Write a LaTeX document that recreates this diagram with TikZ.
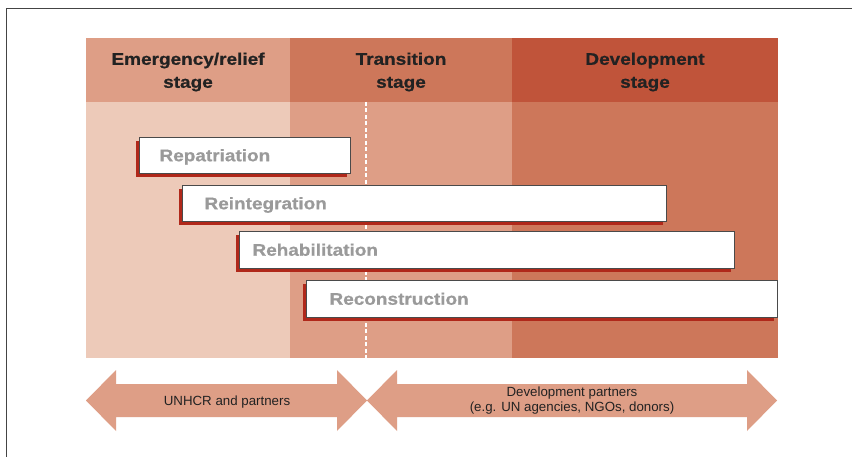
\documentclass[tikz,border=0pt]{standalone}
\usepackage{fontspec}
\setmainfont{Liberation Sans}
\newfontfamily\widefont[FakeStretch=1.13, BoldFeatures={FakeBold=0.7}]{Liberation Sans}
\usetikzlibrary{shadows}
\definecolor{bodyA}{HTML}{EDCAB9}
\definecolor{toneB}{HTML}{DE9E86}
\definecolor{toneC}{HTML}{CD775A}
\definecolor{toneD}{HTML}{C0543A}
\definecolor{shadowred}{HTML}{B0281A}
\definecolor{bargray}{HTML}{9A9A9A}
\definecolor{hdtext}{HTML}{222222}
\definecolor{framegray}{HTML}{444444}
\definecolor{boxline}{HTML}{4A4A4A}
\begin{document}
\begin{tikzpicture}[x=1pt,y=-1pt,
  hdr/.style={inner sep=0pt, align=center, text=hdtext,
    font=\fontsize{16.8}{23}\selectfont\widefont\bfseries},
  bar/.style={draw=boxline, line width=1pt, fill=white, anchor=north west,
    align=left, inner ysep=0pt, text=bargray, text height=12.5pt, text depth=1pt,
    font=\fontsize{16.8}{20}\selectfont\widefont\bfseries,
    general shadow={fill=shadowred, shadow xshift=-4pt, shadow yshift=-3.5pt}},
  arrowfill/.style={fill=toneB},
  arrowtext/.style={inner sep=0pt, align=center, text=hdtext,
    font=\fontsize{13.3}{15}\selectfont}
]
\useasboundingbox (0,0) rectangle (852,457);
\fill[white] (0,0) rectangle (852,457);
% frame
\draw[framegray, line width=1.3pt] (852,8.5) -- (6.5,8.5) -- (6.5,457);

% column bodies
\fill[bodyA] (86,102) rectangle (290,358);
\fill[toneB] (290,102) rectangle (512,358);
\fill[toneC] (512,102) rectangle (778,358);

% headers
\fill[toneB] (86,38) rectangle (290,102);
\fill[toneC] (290,38) rectangle (512,102);
\fill[toneD] (512,38) rectangle (778,102);
\node[hdr] (emerg) at (188,72) {Emergency/relief\\stage};
\node[hdr] (trans) at (401,72) {Transition\\stage};
\node[hdr] (devel) at (645,72) {Development\\stage};

% dashed divider
\coordinate (dtop) at (366,102);
\coordinate (dbot) at (366,358);
\draw[white, line width=1.3pt, dash pattern=on 4pt off 2.5pt] (dtop) -- (dbot);

% bars
\node[bar, inner xsep=20pt, text width=171pt, minimum height=36pt] (rep) at (139,137) {Repatriation};
\node[bar, inner xsep=22pt, text width=440pt, minimum height=36pt] (reint) at (182,185) {Reintegration};
\node[bar, inner xsep=13pt, text width=469pt, minimum height=37pt] (rehab) at (239,231) {Rehabilitation};
\node[bar, inner xsep=23pt, text width=425pt, minimum height=37pt] (recon) at (306,280) {Reconstruction};

% bottom arrows
\fill[arrowfill] (86,400.5) -- (116,370) -- (116,384) -- (337,384) -- (337,370) -- (367,400.5)
  -- (337,431) -- (337,417) -- (116,417) -- (116,431) -- cycle;
\fill[arrowfill] (367,400.5) -- (397,370) -- (397,384) -- (747,384) -- (747,370) -- (777,400.5)
  -- (747,431) -- (747,417) -- (397,417) -- (397,431) -- cycle;
\node[arrowtext] (unhcr) at (227,402.5) {UNHCR and partners};
\node[arrowtext] (devp) at (572,401) {Development partners\\(e.g. UN agencies, NGOs, donors)};
\end{tikzpicture}
\end{document}
